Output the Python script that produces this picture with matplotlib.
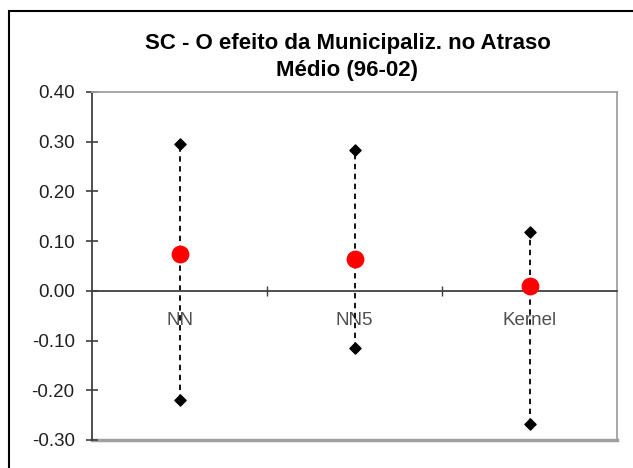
import numpy as np
import matplotlib.pyplot as plt
from matplotlib.patches import Rectangle

# ------------------------------------------------------------
# Data
# ------------------------------------------------------------
categories = ["NN", "NN5", "Kernel"]
upper = [0.295, 0.283, 0.118]
estimate = [0.075, 0.064, 0.009]
lower = [-0.219, -0.115, -0.268]
yticks = [-0.30, -0.20, -0.10, 0.00, 0.10, 0.20, 0.30, 0.40]

# ------------------------------------------------------------
# Figure
# ------------------------------------------------------------
plt.rcParams["font.family"] = ["Liberation Sans", "DejaVu Sans"]
fig = plt.figure(figsize=(6.33, 4.68), dpi=100)
ax = fig.add_axes([92 / 633, 28 / 468, 525 / 633, 348 / 468])

# outer chart border (clipped on right/bottom as in the original)
fig.patches.append(Rectangle((9 / 633, -0.1), 1.2, 1 - 11 / 468 + 0.1,
                             transform=fig.transFigure, fill=False,
                             lw=1.5, ec="black", zorder=0))

x = np.arange(len(categories))

# dashed ranges
ax.vlines(x, lower, upper, colors="black", linestyles=(0, (3, 2.5)), lw=1.3, zorder=2)
ax.scatter(x, upper, marker="D", s=32, color="black", zorder=3)
ax.scatter(x, lower, marker="D", s=32, color="black", zorder=3)
ax.scatter(x, estimate, marker="o", s=140, color="#ff0000", zorder=4)

ax.set_xlim(-0.5, 2.5)
ax.set_ylim(-0.30, 0.40)

# category axis crossing at zero
ax.spines["bottom"].set_position(("data", 0))
ax.spines["bottom"].set_color("#404040")
ax.spines["bottom"].set_linewidth(1.3)
ax.spines["left"].set_color("#404040")
ax.spines["left"].set_linewidth(1.3)
for s in ["top", "right"]:
    ax.spines[s].set_color("#a0a0a0")
    ax.spines[s].set_linewidth(1.3)
ax.axhline(-0.30, color="#a0a0a0", lw=2.5, clip_on=False, zorder=1)

ax.set_xticks(x)
ax.set_xticklabels(categories)
ax.set_xticks([0.5, 1.5], minor=True)
ax.tick_params(axis="x", which="major", length=0, pad=15, labelsize=13.5, labelcolor="#505050")
ax.tick_params(axis="x", which="minor", direction="inout", length=7, width=1, color="#404040")

ax.set_yticks(yticks)
ax.set_yticklabels([f"{v:.2f}" for v in yticks])
ax.tick_params(axis="y", direction="inout", length=8, width=1.2, pad=8.5,
               labelsize=13.5, labelcolor="#202020", color="#404040")

fig.text(347.5 / 633, 1 - 49 / 468, "SC - O efeito da Municipaliz. no Atraso",
         ha="center", va="baseline", fontsize=16, fontweight="bold")
fig.text(347.5 / 633, 1 - 76 / 468, "Médio (96-02)",
         ha="center", va="baseline", fontsize=16, fontweight="bold")

fig.savefig("out.png", dpi=100)
